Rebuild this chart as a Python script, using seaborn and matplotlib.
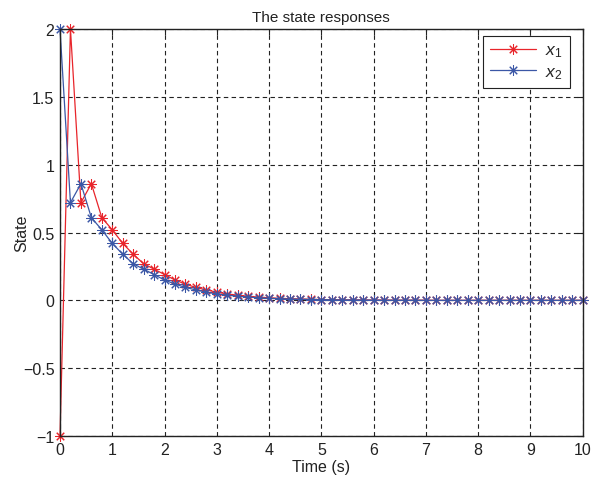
import numpy as np
import pandas as pd
import matplotlib
matplotlib.use("Agg")
import matplotlib.pyplot as plt
import seaborn as sns

# Sampled state trajectories (sampling period 0.2 s)
time = [round(0.2 * k, 1) for k in range(51)]
x1 = [-1, 2, 0.72, 0.86, 0.61, 0.52, 0.42, 0.34, 0.27, 0.23, 0.19, 0.15,
      0.12, 0.095, 0.077, 0.06, 0.047, 0.038, 0.03, 0.024, 0.019, 0.015,
      0.012, 0.01, 0.008, 0.006, 0.005, 0.004, 0.003, 0.003, 0.002, 0.002,
      0.001, 0.001, 0.001, 0.001, 0, 0, 0, 0, 0, 0, 0, 0, 0, 0, 0, 0, 0, 0, 0]
x2 = [2, 0.72, 0.86, 0.61, 0.52, 0.42, 0.34, 0.27, 0.23, 0.19, 0.15,
      0.12, 0.095, 0.077, 0.06, 0.047, 0.038, 0.03, 0.024, 0.019, 0.015,
      0.012, 0.01, 0.008, 0.006, 0.005, 0.004, 0.003, 0.003, 0.002, 0.002,
      0.001, 0.001, 0.001, 0.001, 0, 0, 0, 0, 0, 0, 0, 0, 0, 0, 0, 0, 0, 0, 0, 0]
series_names = ["$x_1$", "$x_2$"]
series_colors = ["#e8252b", "#3b57a6"]
x_ticks = list(range(0, 11))
y_ticks = [-1, -0.5, 0, 0.5, 1, 1.5, 2]

df = pd.DataFrame({
    "Time": time * 2,
    "State": x1 + x2,
    "series": [series_names[0]] * len(time) + [series_names[1]] * len(time),
})

sns.set_theme(style="white")
plt.rcParams["font.family"] = ["Liberation Sans", "DejaVu Sans"]
plt.rcParams["mathtext.fontset"] = "custom"
plt.rcParams["mathtext.it"] = "Liberation Sans:italic"
plt.rcParams["mathtext.rm"] = "Liberation Sans"

fig = plt.figure(figsize=(5.94, 4.81), dpi=100)
ax = fig.add_axes([0.101, 0.0915, 0.880, 0.846])

# asterisk marker: eight spokes (plus and cross combined)
sns.lineplot(data=df, x="Time", y="State", hue="series",
             palette=dict(zip(series_names, series_colors)),
             marker=(8, 2, 0), markersize=7.5, markeredgewidth=0.75,
             linewidth=0.9, ax=ax, legend=True)
for line in ax.lines:
    line.set_markeredgecolor(line.get_color())
    line.set_clip_on(False)

ax.set_xlim(0, 10)
ax.set_ylim(-1, 2)
ax.set_xticks(x_ticks)
ax.set_yticks(y_ticks)
ax.set_xticklabels([str(t) for t in x_ticks])
ax.set_yticklabels(["\u22121", "\u22120.5", "0", "0.5", "1", "1.5", "2"])
ax.tick_params(direction="in", length=4, width=0.8, top=True, right=True,
               labelsize=11.5, colors="#222222", pad=4)
ax.grid(True, color="#222222", linestyle=(0, (4, 3)), linewidth=0.8)
for s in ax.spines.values():
    s.set_color("#222222")
    s.set_linewidth(1.0)

ax.set_title("The state responses", fontsize=11, color="#222222", pad=6)
ax.set_xlabel("Time (s)", fontsize=11.5, color="#222222", labelpad=2)
ax.set_ylabel("State", fontsize=11.5, color="#222222", labelpad=-5)

leg = ax.legend(loc="upper right", bbox_to_anchor=(0.975, 0.984),
                fontsize=12.5, frameon=True, fancybox=False,
                edgecolor="#222222", framealpha=1, borderpad=0.4,
                handlelength=2.7, handletextpad=0.5, labelspacing=0.25,
                borderaxespad=0.0)
leg.get_frame().set_linewidth(0.8)
leg.set_title(None)
for h in leg.legend_handles:
    h.set_markeredgecolor(h.get_color())

fig.savefig("out.png", dpi=100)
